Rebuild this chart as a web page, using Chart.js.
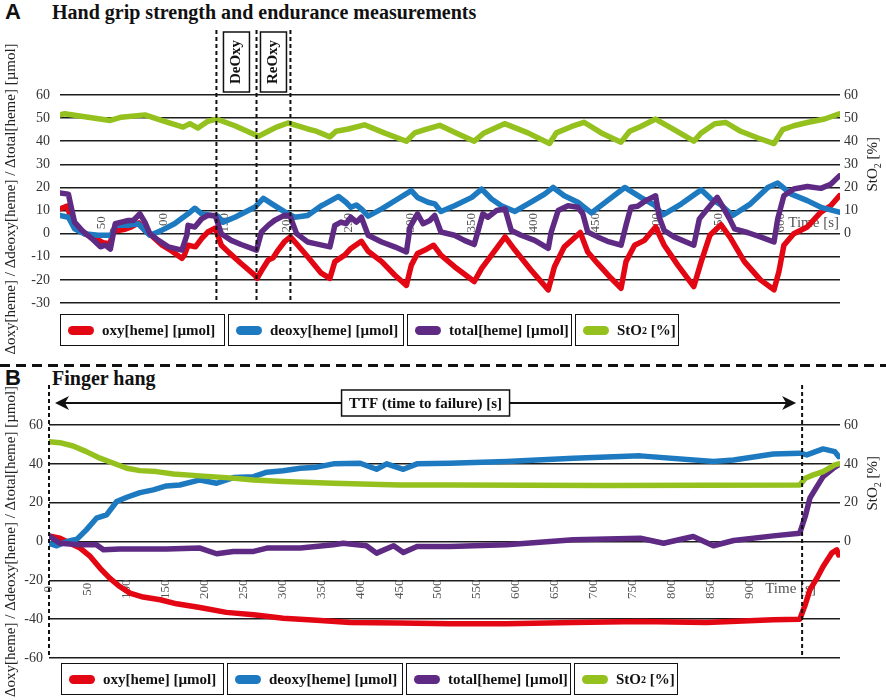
<!DOCTYPE html>
<html>
<head>
<meta charset="utf-8">
<title>Hand grip and finger hang NIRS traces</title>
<script src="https://cdn.jsdelivr.net/npm/chart.js@4.4.1/dist/chart.umd.min.js"></script>
<style>
  body { margin: 0; background: #fff; }
  #page { position: relative; width: 886px; height: 700px; overflow: hidden; font-family: "Liberation Serif", serif; color: #111; }
  .letter { position: absolute; left: 5px; font: bold 22px "Liberation Sans", Arial, sans-serif; line-height: 24px; }
  .title { position: absolute; left: 52px; font: bold 20px "Liberation Serif", serif; line-height: 24px; }
  .plot { position: absolute; left: 0; width: 886px; }
  .legend { position: absolute; display: flex; gap: 3px; }
  .legend .item { box-sizing: border-box; height: 32px; border: 1.5px solid #111; background: #fff; display: flex; align-items: center; padding-left: 7px; font: bold 15px "Liberation Serif", serif; white-space: nowrap; }
  .legend .sw { width: 26px; height: 9px; border-radius: 5px; margin-right: 8px; flex: none; }
  .legend sub { font-size: 10px; }
  .sep { position: absolute; top: 364px; left: 0; width: 886px; height: 3px; background: repeating-linear-gradient(90deg, #111 0 10px, transparent 10px 16px); }
</style>
</head>
<body>
<div id="page">
  <div class="letter" style="top:0px">A</div>
  <div class="title" style="top:0px">Hand grip strength and endurance measurements</div>
  <div class="plot" style="top:0px;height:360px"><canvas id="gripChart" width="886" height="360"></canvas></div>
  <div class="legend" style="left:60px;top:314px">
    <div class="item" style="width:165px"><span class="sw" style="background:#e30613"></span>oxy[heme] [µmol]</div>
    <div class="item" style="width:176px"><span class="sw" style="background:#1d7ac0"></span>deoxy[heme] [µmol]</div>
    <div class="item" style="width:165px"><span class="sw" style="background:#5e2a84"></span>total[heme] [µmol]</div>
    <div class="item" style="width:104px"><span class="sw" style="background:#95c11f"></span>StO<sub>2</sub>&nbsp;[%]</div>
  </div>

  <div class="sep"></div>

  <div class="letter" style="top:366px">B</div>
  <div class="title" style="top:366px">Finger hang</div>
  <div class="plot" style="top:368px;height:332px"><canvas id="hangChart" width="886" height="332"></canvas></div>
  <div class="legend" style="left:61px;top:663px">
    <div class="item" style="width:163px"><span class="sw" style="background:#e30613"></span>oxy[heme] [µmol]</div>
    <div class="item" style="width:176px"><span class="sw" style="background:#1d7ac0"></span>deoxy[heme] [µmol]</div>
    <div class="item" style="width:165px"><span class="sw" style="background:#5e2a84"></span>total[heme] [µmol]</div>
    <div class="item" style="width:104px"><span class="sw" style="background:#95c11f"></span>StO<sub>2</sub>&nbsp;[%]</div>
  </div>
</div>

<script>
// ---- data: [time s, value] ----
const gripTicks = [50, 100, 150, 200, 250, 300, 350, 400, 450, 500, 550, 600];
const gripPhases = [143, 175.5, 203]; // DeOxy start, ReOxy start, ReOxy end

const gripOxy = [[16,10.7],[22,11.9],[24,8.6],[28,2.9],[36,0],[45,-2.1],[51,-3.9],[57,-4.3],[59,1.4],[63,1.4],[69,1.9],[74,2.9],[80,4.7],[85,1.4],[90,-0.7],[99,-5],[107,-7.6],[115,-10.7],[117,-9.3],[120,-5],[126,-5.7],[131,-2.1],[136,0.7],[142,2.4],[147,-5],[153,-8.1],[163,-12.9],[174,-17.9],[176,-19.3],[180,-15.7],[185,-11.4],[189,-10.4],[193,-7.1],[198,-3.6],[203,-1.4],[209,-5],[217,-10],[228,-17.1],[235,-19.3],[239,-12.1],[243,-10.7],[247,-9.3],[252,-6.4],[260.5,-3.3],[266,-7.6],[277,-12.1],[287.5,-17.9],[297,-22.4],[301,-13.6],[306,-8.6],[312,-7.1],[319,-5],[325,-9.3],[336,-14.3],[352,-20.7],[358,-15],[366,-9.3],[377,-1.4],[385,-7.1],[398,-15.7],[412,-24.3],[417,-14.3],[425,-5.7],[433,-1.9],[438,0.5],[444,-7.9],[452,-12.9],[463,-19.3],[471,-23.6],[475,-12.1],[482,-5],[490,-2.9],[499,2.9],[506,-5],[517,-13.6],[530,-22.9],[536,-12.1],[543,-0.7],[552,3.9],[560,-2.1],[571,-12.1],[584,-20],[595,-24.3],[599,-16.4],[603,-5],[611,0],[622,2.9],[633,9.3],[641,12.1],[648,16.4]];
const gripDeoxy = [[16,7.9],[23,7.1],[28,2.1],[36,0],[47,-0.7],[58,-0.7],[61,3.6],[71.5,3.6],[79.6,4.3],[89,-0.7],[98.5,1.4],[109,4.3],[120,8.6],[125.5,11],[131,8.6],[139,7.9],[144,7.6],[148.5,5],[158,7.1],[174,11.4],[181,15.3],[188,12.9],[201,8.6],[206.5,7.1],[217,7.9],[228,12.1],[231,12.9],[242,16.1],[248,13.6],[252,11.4],[256.5,12.4],[260.5,10.7],[266,7.6],[277,10.7],[290,15],[301,18.6],[306,15.7],[314.5,13.6],[320,12.9],[325,9.6],[336,12.1],[350,15.7],[358,19.3],[366,15],[374,12.1],[385,9.6],[398,13.6],[409,17.1],[416,20],[425,16.4],[436,13.6],[440,11.9],[447,9],[460,14.3],[474,20],[487,15.7],[498,12.4],[505,8.1],[520,12.9],[536,19],[544,15],[552,12.4],[561.5,7.9],[576,12.9],[590,20],[598,21.9],[609,17.1],[622,14.3],[633,11.4],[648,9.3]];
const gripTotal = [[16,17.6],[23,17.1],[25.6,10.7],[28,5],[34,1.4],[42,-2.1],[49,-5.7],[53,-5],[57,-6.7],[61,4.3],[66,5],[71.5,5.7],[75.6,5.7],[81,8.6],[85,5],[89,0],[96,-2.9],[104,-5.7],[115,-7.1],[119,-0.7],[120,3.6],[125.5,2.9],[131,6.4],[136,7.9],[142,7.9],[147,0],[155,-2.9],[163,-4.7],[175.5,-7.1],[179.5,0.7],[185,3.6],[190,5.7],[198,7.9],[202.5,7.9],[208,0],[217,-3.6],[223,-4.3],[235,-5.7],[239,3.6],[244,5],[248,4.3],[252,7.1],[256.5,5],[260.5,7.1],[266,-0.7],[277,-3.6],[287.5,-5.7],[297,-7.9],[300,2.9],[306,8.6],[310.5,4.3],[316,5.7],[320,7.9],[325,0.7],[336,-0.7],[344,-2.9],[352,-4.7],[359,8.6],[363,7.1],[370,10],[377,10.7],[382,1.4],[390,-0.7],[401,-2.9],[412,-6.4],[414.4,0.7],[420,10],[428,12.1],[436,11.4],[440,8.6],[444,0.7],[452,-1.4],[460,-3.3],[471,-5],[475,3.6],[479,11.4],[484.5,11.9],[491,14.3],[499,16.4],[502,7.1],[506,1.4],[514,-1.4],[530,-5],[534.5,6.4],[541,10.7],[549,15.7],[553,12.1],[559,6.4],[563,2.1],[574,0.4],[584,-1.4],[595,-3.6],[598,6.4],[603,16.4],[611,19.3],[622,20.4],[633,19.6],[641,21.4],[648,25]];
const gripSto2 = [[16,51.4],[20,51.9],[39,50.4],[57,49],[66,50.4],[85,51.4],[101,48.6],[116,46.1],[121.5,47.6],[128,45.7],[136,48.6],[143,49.6],[158,46.7],[177,42.1],[185,44.3],[191.7,46.1],[201,47.9],[217,45.3],[223,44.5],[235,41.9],[240,44.3],[250,45.3],[263,47.1],[279,43.6],[297,40],[303.7,43.6],[312,45],[324,46.9],[336,43.9],[352,40],[360,43.6],[376.6,47.6],[395.5,43.6],[413,39],[418.5,43.6],[431,46.4],[441,48.2],[455,43.6],[471,39.6],[478,44.3],[487,46.4],[499,49.6],[514,45],[530,40],[536,43.6],[547,47.6],[556,48.1],[568,44.3],[582,41.4],[595,39],[602,45],[611,46.7],[622,48.1],[636,49.6],[648,51.9]];

const hangTicks = [0, 50, 100, 150, 200, 250, 300, 350, 400, 450, 500, 550, 600, 650, 700, 750, 800, 850, 900];
const hangTTF = [0, 968]; // start and failure time

const hangOxy = [[0,2.9],[14,1.7],[27,-0.9],[40,-3.4],[53,-7.7],[65.5,-13.7],[78,-18.9],[91,-23.2],[104,-26.6],[121,-28.6],[143,-30],[164,-32.1],[194,-34],[228,-36.5],[263,-37.7],[301,-39.5],[344,-40.6],[387,-41.7],[451,-42],[515,-42.4],[588,-42.4],[674,-41.7],[760,-41.2],[845,-41.7],[931,-40.3],[965,-40],[972,-32.6],[978,-24.9],[987,-18.9],[995,-12.9],[1006,-6],[1012.5,-4.3],[1015,-6.9]];
const hangDeoxy = [[0,-0.9],[10,-2.2],[23,0],[36,1.2],[48,6],[61,12],[74,13.7],[87,20.6],[100,22.8],[117,25.2],[134,26.6],[151,28.6],[168,29.1],[194,31.7],[215.5,30],[237,32.9],[263,33.4],[280,35.7],[301,36.4],[323,37.7],[344,38.3],[365.5,40],[400,40.3],[421,37.2],[434,40],[455.5,37.2],[473,40],[515,40.3],[588,41.2],[674,42.9],[760,44.1],[854,41.2],[880,42],[931,45.1],[965,45.5],[974,44.6],[995,47.7],[1010,46.3],[1015,43.7]];
const hangTotal = [[0,2.9],[14,-0.9],[40,-1.7],[61,-1.7],[70,-4.3],[91,-3.9],[117,-3.9],[151,-3.9],[194,-3.4],[215.5,-6.3],[237,-5.1],[263,-5.1],[280,-3.4],[323,-3.4],[365.5,-1.7],[378,-0.9],[408,-2.2],[421,-6],[443,-2.2],[455.5,-5.7],[473,-2.6],[515,-2.6],[588,-1.7],[674,0.9],[760,1.7],[790,-0.9],[828,2.6],[854,-2.2],[880,0.5],[931,2.9],[965,4.3],[972,12.9],[978,22.3],[987,28.3],[995,33.4],[1008,37.7],[1015,39.5]];
const hangSto2 = [[0,51.4],[14,50.9],[31,49.2],[48,46.3],[65.5,42.9],[83,40.3],[100,37.7],[117,36.5],[138,36],[160,34.8],[194,33.8],[228,32.9],[263,31.7],[301,30.9],[365.5,30],[451,29.1],[515,29.1],[717,28.8],[965,29.1],[972,32.6],[982.5,34.3],[995,36],[1010,39.5],[1015,40]];

const COLORS = { oxy: '#e30613', deoxy: '#1d7ac0', total: '#5e2a84', sto2: '#95c11f' };
const SERIF = '"Liberation Serif", "Times New Roman", serif';

function series(label, arr, color, order, axis) {
    return {
        label: label,
        data: arr.map(p => ({ x: p[0], y: p[1] })),
        borderColor: color,
        backgroundColor: color,
        borderWidth: 5.5,
        pointRadius: 0,
        borderJoinStyle: 'round',
        borderCapStyle: 'round',
        order: order,
        yAxisID: axis
    };
}

// rotated text, reading bottom to top
function vertText(ctx, text, x, y, font, color, align) {
    ctx.save();
    ctx.translate(x, y);
    ctx.rotate(-Math.PI / 2);
    ctx.font = font;
    ctx.fillStyle = color;
    ctx.textAlign = align;
    ctx.textBaseline = 'middle';
    ctx.fillText(text, 0, 0);
    ctx.restore();
}

function dashedLine(ctx, x, top, bottom) {
    ctx.save();
    ctx.strokeStyle = '#111';
    ctx.lineWidth = 2;
    ctx.setLineDash([4, 3]);
    ctx.beginPath();
    ctx.moveTo(x, top);
    ctx.lineTo(x, bottom);
    ctx.stroke();
    ctx.restore();
}

function sto2Title(chart) {
    const ctx = chart.ctx;
    const cy = chart.scales.y2.getPixelForValue(30);
    const cx = chart.chartArea.right + 33;
    ctx.save();
    ctx.translate(cx, cy);
    ctx.rotate(-Math.PI / 2);
    ctx.fillStyle = '#222';
    ctx.textBaseline = 'middle';
    ctx.textAlign = 'left';
    ctx.font = '15px ' + SERIF;
    const wa = ctx.measureText('StO').width;
    const wb = ctx.measureText(' [%]').width;
    ctx.font = '10px ' + SERIF;
    const w2 = ctx.measureText('2').width;
    let sx = -(wa + w2 + wb) / 2;
    ctx.font = '15px ' + SERIF;
    ctx.fillText('StO', sx, 0);
    sx += wa;
    ctx.font = '10px ' + SERIF;
    ctx.fillText('2', sx, 5);
    sx += w2;
    ctx.font = '15px ' + SERIF;
    ctx.fillText(' [%]', sx, 0);
    ctx.restore();
}

const gripOverlay = {
    id: 'gripOverlay',
    beforeDatasetsDraw(chart) {
        const { ctx, chartArea, scales: { x, y } } = chart;
        const ly = y.getPixelForValue(0) - 11;
        gripTicks.forEach(v => vertText(ctx, String(v), x.getPixelForValue(v), ly, '13px ' + SERIF, '#555', 'center'));
        ctx.save();
        ctx.font = '15px ' + SERIF;
        ctx.fillStyle = '#555';
        ctx.textAlign = 'right';
        ctx.textBaseline = 'middle';
        ctx.fillText('Time [s]', chartArea.right - 1, ly);
        ctx.restore();
    },
    afterDatasetsDraw(chart) {
        const { ctx, chartArea, scales: { x } } = chart;
        const xs = gripPhases.map(t => x.getPixelForValue(t));
        xs.forEach(px => dashedLine(ctx, px, chartArea.top - 65, chartArea.bottom));
        const boxes = [['DeOxy', (xs[0] + xs[1]) / 2], ['ReOxy', (xs[1] + xs[2]) / 2]];
        boxes.forEach(([text, cx]) => {
            const cy = chartArea.top - 33;
            ctx.save();
            ctx.fillStyle = '#fff';
            ctx.fillRect(cx - 13, cy - 30, 26, 60);
            ctx.strokeStyle = '#111';
            ctx.lineWidth = 1.5;
            ctx.strokeRect(cx - 13, cy - 30, 26, 60);
            ctx.restore();
            vertText(ctx, text, cx, cy, 'bold 15px ' + SERIF, '#111', 'center');
        });
    },
    afterDraw(chart) {
        sto2Title(chart);
    }
};

const hangOverlay = {
    id: 'hangOverlay',
    beforeDatasetsDraw(chart) {
        const { ctx, scales: { x, y } } = chart;
        const ly = y.getPixelForValue(-20) + 9;
        hangTicks.forEach(v => vertText(ctx, String(v), x.getPixelForValue(v), ly, '13px ' + SERIF, '#555', 'center'));
        ctx.save();
        ctx.font = '15px ' + SERIF;
        ctx.fillStyle = '#555';
        ctx.textAlign = 'left';
        ctx.textBaseline = 'middle';
        ctx.fillText('Time [s]', x.getPixelForValue(hangTicks[hangTicks.length - 1]) + 16, ly);
        ctx.restore();
    },
    afterDatasetsDraw(chart) {
        const { ctx, chartArea, scales: { x } } = chart;
        const xs = hangTTF.map(t => x.getPixelForValue(t));
        xs.forEach(px => dashedLine(ctx, px, chartArea.top - 40, chartArea.bottom));
        const ay = chartArea.top - 22;
        const x0 = xs[0] + 6, x1 = xs[1] - 6;
        ctx.save();
        ctx.strokeStyle = '#111';
        ctx.fillStyle = '#111';
        ctx.lineWidth = 2;
        ctx.beginPath();
        ctx.moveTo(x0 + 8, ay);
        ctx.lineTo(x1 - 8, ay);
        ctx.stroke();
        // arrow heads
        ctx.beginPath();
        ctx.moveTo(x0, ay); ctx.lineTo(x0 + 14, ay - 7); ctx.lineTo(x0 + 10, ay); ctx.lineTo(x0 + 14, ay + 7); ctx.closePath();
        ctx.fill();
        ctx.beginPath();
        ctx.moveTo(x1, ay); ctx.lineTo(x1 - 14, ay - 7); ctx.lineTo(x1 - 10, ay); ctx.lineTo(x1 - 14, ay + 7); ctx.closePath();
        ctx.fill();
        // TTF label box
        const cx = (xs[0] + xs[1]) / 2;
        ctx.fillStyle = '#fff';
        ctx.fillRect(cx - 84, ay - 13, 168, 26);
        ctx.lineWidth = 1.5;
        ctx.strokeRect(cx - 84, ay - 13, 168, 26);
        ctx.fillStyle = '#111';
        ctx.font = 'bold 15px ' + SERIF;
        ctx.textAlign = 'center';
        ctx.textBaseline = 'middle';
        ctx.fillText('TTF (time to failure) [s]', cx, ay + 1);
        ctx.restore();
    },
    afterDraw(chart) {
        sto2Title(chart);
    }
};

function buildChart(id, cfg) {
    const tickFont = { family: SERIF, size: 14 };
    return new Chart(document.getElementById(id), {
        type: 'line',
        data: {
            datasets: [
                series('oxy[heme] [µmol]', cfg.oxy, COLORS.oxy, 3, 'y'),
                series('deoxy[heme] [µmol]', cfg.deoxy, COLORS.deoxy, 2, 'y'),
                series('total[heme] [µmol]', cfg.total, COLORS.total, 1, 'y'),
                series('StO₂ [%]', cfg.sto2, COLORS.sto2, 0, 'y2')
            ]
        },
        options: {
            responsive: false,
            animation: false,
            layout: { padding: { top: cfg.padTop, bottom: cfg.padBottom, left: 0, right: 0 } },
            plugins: { legend: { display: false }, tooltip: { enabled: false } },
            elements: { line: { tension: 0 } },
            scales: {
                x: { type: 'linear', min: cfg.xMin, max: cfg.xMax, display: false },
                y: {
                    position: 'left',
                    min: cfg.yMin,
                    max: 60,
                    ticks: { stepSize: cfg.yStep, color: '#333', font: tickFont, padding: cfg.tickPad },
                    grid: { color: '#1c1c1c', lineWidth: 1.6, drawTicks: false },
                    border: { display: false },
                    title: {
                        display: true,
                        text: 'Δoxy[heme] / Δdeoxy[heme] / Δtotal[heme] [µmol]',
                        color: '#222',
                        font: { family: SERIF, size: 15 },
                        padding: { top: 2, bottom: 0 }
                    },
                    afterFit: s => { s.width = cfg.leftW; }
                },
                y2: {
                    position: 'right',
                    min: cfg.yMin,
                    max: 60,
                    ticks: { stepSize: cfg.yStep, color: '#333', font: tickFont, padding: 4, callback: v => (v >= 0 ? v : '') },
                    grid: { display: false, drawTicks: false },
                    border: { display: false },
                    afterFit: s => { s.width = 46; }
                }
            }
        },
        plugins: [cfg.overlay]
    });
}

buildChart('gripChart', {
    oxy: gripOxy, deoxy: gripDeoxy, total: gripTotal, sto2: gripSto2,
    xMin: 16.2, xMax: 648.5, yMin: -30, yStep: 10,
    padTop: 95, padBottom: 57, leftW: 60, tickPad: 10, overlay: gripOverlay
});

buildChart('hangChart', {
    oxy: hangOxy, deoxy: hangDeoxy, total: hangTotal, sto2: hangSto2,
    xMin: 0, xMax: 1016.7, yMin: -60, yStep: 20,
    padTop: 57, padBottom: 42, leftW: 49, tickPad: 6, overlay: hangOverlay
});
</script>
</body>
</html>
